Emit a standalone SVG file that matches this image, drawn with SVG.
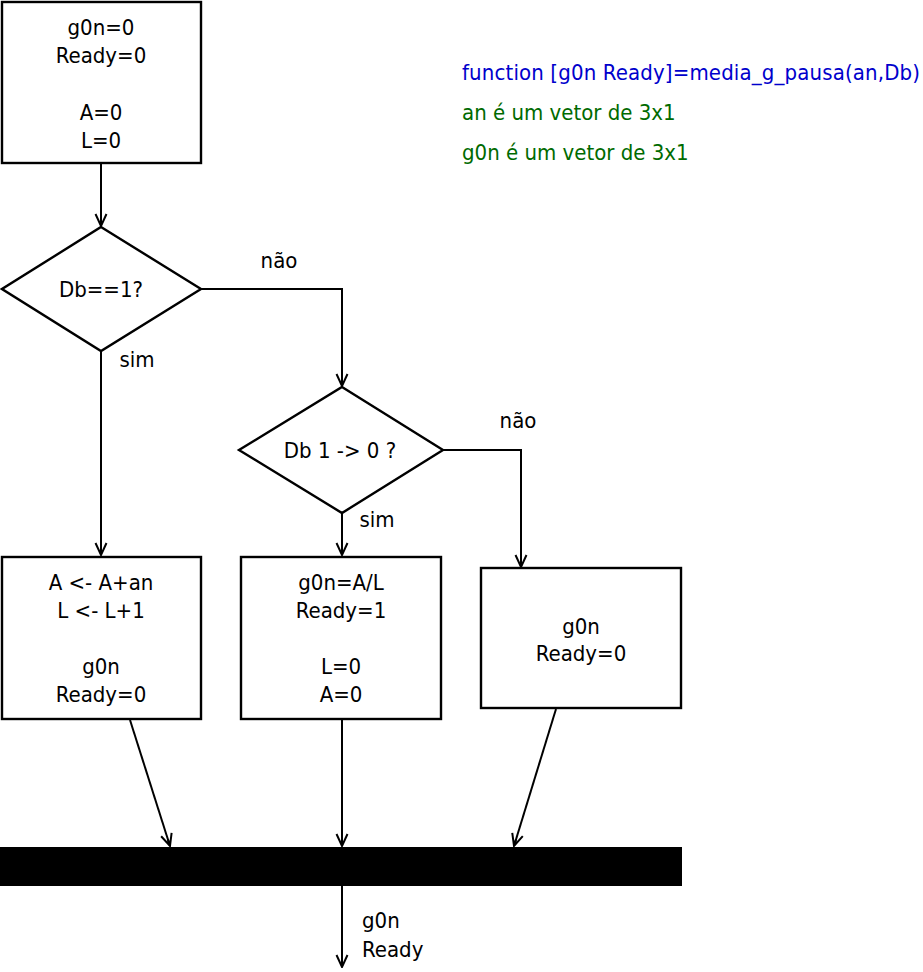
<svg xmlns="http://www.w3.org/2000/svg" width="923" height="972" viewBox="0 0 923 972">
<defs>
<style>
text{font-family:"DejaVu Sans Condensed","DejaVu Sans",sans-serif;font-stretch:condensed;font-size:22px;fill:#000}
.c{text-anchor:middle}
.box{fill:#fff;stroke:#000;stroke-width:2.4}
.ln{fill:none;stroke:#000;stroke-width:2}
.blue{fill:#0000cc}
.green{fill:#006a00}
</style>
<marker id="ah" markerUnits="userSpaceOnUse" markerWidth="16" markerHeight="16" viewBox="0 0 16 16" refX="15" refY="8" orient="auto">
<path d="M3,2.5 L15,8 L3,13.5 M8,8 L15,8" fill="none" stroke="#000" stroke-width="2"/>
</marker>
</defs>
<rect width="923" height="972" fill="#fff"/>
<g id="connectors">
<line class="ln" x1="101" y1="163" x2="101" y2="226" marker-end="url(#ah)"/>
<polyline class="ln" points="201,289 342,289 342,386" marker-end="url(#ah)"/>
<line class="ln" x1="101" y1="351" x2="101" y2="555" marker-end="url(#ah)"/>
<line class="ln" x1="342" y1="513" x2="342" y2="555" marker-end="url(#ah)"/>
<polyline class="ln" points="443,450 521,450 521,567" marker-end="url(#ah)"/>
<line class="ln" x1="130" y1="720" x2="170" y2="846" marker-end="url(#ah)"/>
<line class="ln" x1="342" y1="720" x2="342" y2="846" marker-end="url(#ah)"/>
<line class="ln" x1="556" y1="709" x2="514" y2="846" marker-end="url(#ah)"/>
<line class="ln" x1="342" y1="886" x2="342" y2="967" marker-end="url(#ah)"/>
<text x="279" y="268" class="c">não</text>
<text x="137" y="367" class="c">sim</text>
<text x="518" y="428" class="c">não</text>
<text x="377" y="527" class="c">sim</text>
<text x="362" y="928">g0n</text>
<text x="362" y="957">Ready</text>
</g>
<g id="note">
<text x="462" y="80" class="blue" textLength="458" lengthAdjust="spacing">function [g0n Ready]=media_g_pausa(an,Db)</text>
<text x="462" y="120" class="green">an é um vetor de 3x1</text>
<text x="462" y="160" class="green">g0n é um vetor de 3x1</text>
</g>
<g id="init">
<rect class="box" x="2" y="2" width="199" height="161"/>
<text x="101" y="35" class="c">g0n=0</text>
<text x="101" y="63" class="c">Ready=0</text>
<text x="101" y="120" class="c">A=0</text>
<text x="101" y="148" class="c">L=0</text>
</g>
<g id="dec1">
<polygon class="box" points="101,227 201,289 101,351 2,289"/>
<text x="101" y="297" class="c">Db==1?</text>
</g>
<g id="dec2">
<polygon class="box" points="342,387 443,450 342,513 239,450"/>
<text x="340" y="458" class="c">Db 1 -&gt; 0 ?</text>
</g>
<g id="accum">
<rect class="box" x="2" y="557" width="199" height="162"/>
<text x="101" y="590" class="c">A &lt;- A+an</text>
<text x="101" y="618" class="c">L &lt;- L+1</text>
<text x="101" y="674" class="c">g0n</text>
<text x="101" y="702" class="c">Ready=0</text>
</g>
<g id="mean">
<rect class="box" x="241" y="557" width="200" height="162"/>
<text x="341" y="590" class="c">g0n=A/L</text>
<text x="341" y="618" class="c">Ready=1</text>
<text x="341" y="674" class="c">L=0</text>
<text x="341" y="702" class="c">A=0</text>
</g>
<g id="hold">
<rect class="box" x="481" y="568" width="200" height="140"/>
<text x="581" y="634" class="c">g0n</text>
<text x="581" y="661" class="c">Ready=0</text>
</g>
<g id="join">
<rect x="0" y="847" width="682" height="39" fill="#000"/>
</g>
</svg>
